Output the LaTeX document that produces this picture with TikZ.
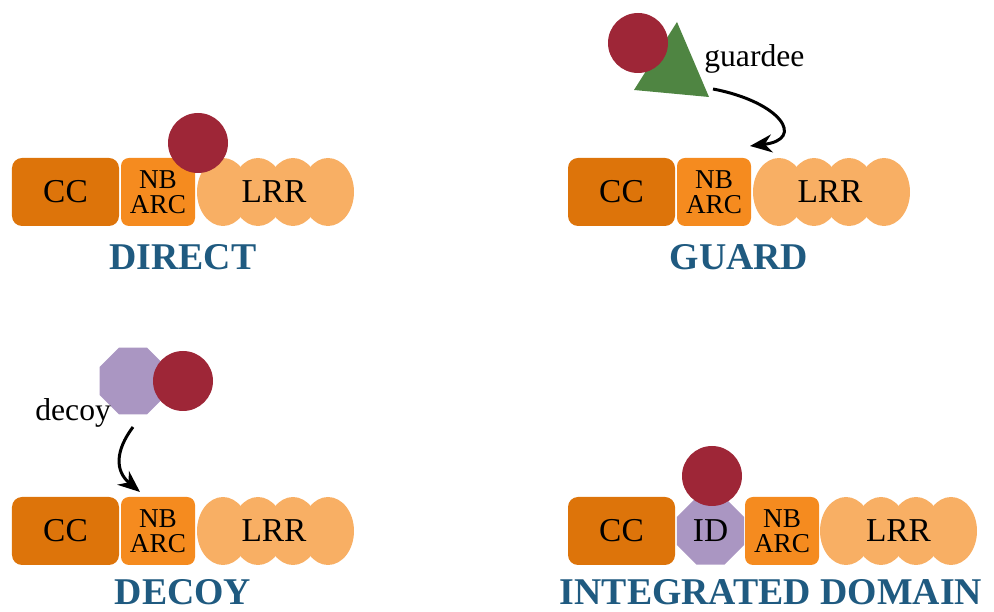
\documentclass[tikz,border=0pt]{standalone}
\usepackage{fontspec}
\setmainfont{Liberation Serif}
\usetikzlibrary{positioning, shapes.geometric, arrows.meta}
\definecolor{CCOrange}{RGB}{221,116,10}
\definecolor{NBOrange}{RGB}{245,139,31}
\definecolor{LRROrange}{RGB}{248,175,100}
\definecolor{EffRed}{RGB}{158,38,55}
\definecolor{TitleBlue}{RGB}{31,90,128}
\definecolor{GuardGreen}{RGB}{79,133,66}
\definecolor{DecoyPurple}{RGB}{170,150,194}

\tikzset{
  ccbox/.style={fill=CCOrange, rounded corners=0.2cm, minimum width=2.14cm, minimum height=1.36cm, inner sep=0pt, font=\fontsize{19}{19}\selectfont},
  nbbox/.style={fill=NBOrange, rounded corners=0.16cm, minimum width=1.48cm, minimum height=1.36cm, inner sep=0pt, align=center, font=\fontsize{15.5}{14}\selectfont},
  lrrbead/.style={fill=LRROrange},
  lrrlabel/.style={font=\fontsize{19}{19}\selectfont, inner sep=0pt},
  effector/.style={circle, fill=EffRed, minimum size=1.2cm, inner sep=0pt},
  octa/.style={regular polygon, regular polygon sides=8, fill=DecoyPurple, minimum size=1.45cm, inner sep=0pt, font=\fontsize{19}{19}\selectfont},
  title/.style={font=\fontsize{21.5}{24}\selectfont\bfseries, text=TitleBlue, anchor=base, inner sep=0pt},
  tag/.style={font=\fontsize{18}{18}\selectfont, inner sep=0pt, anchor=base west},
  curvearrow/.style={-{Stealth[length=0.44cm, width=0.36cm]}, line width=0.06cm}
}

\begin{document}
\begin{tikzpicture}
\useasboundingbox (0,0) rectangle (19.88,12.24);

% DIRECT
\node[ccbox] (cc1) at (1.31,8.40) {CC};
\node[nbbox] (nb1) at (3.16,8.40) {NB\\ARC};
\foreach \i in {0,...,3}
  \fill[lrrbead] ({4.46+0.70*\i},8.40) ellipse [x radius=0.52, y radius=0.68];
\node[lrrlabel] (lrr1) at (5.48,8.40) {LRR};
\node[effector] (eff1) at (3.96,9.38) {};
\node[title] (t1) at (3.66,6.84) {DIRECT};

% GUARD
\begin{scope}[xshift=11.12cm]
\node[ccbox] (cc2) at (1.31,8.40) {CC};
\node[nbbox] (nb2) at (3.16,8.40) {NB\\ARC};
\foreach \i in {0,...,3}
  \fill[lrrbead] ({4.46+0.70*\i},8.40) ellipse [x radius=0.52, y radius=0.68];
\node[lrrlabel] (lrr2) at (5.48,8.40) {LRR};
\fill[GuardGreen] (1.56,10.44) -- (2.42,11.80) -- (3.06,10.30) -- cycle;
\node[effector] (eff2) at (1.64,11.38) {};
\node[tag] (gtag) at (2.96,10.90) {guardee};
\coordinate (gs) at (3.14,10.46);
\coordinate (gt) at (3.88,9.32);
\draw[curvearrow] (gs) .. controls (4.5,10.2) and (5.0,9.45) .. (gt);
\node[title] (t2) at (3.66,6.84) {GUARD};
\end{scope}

% DECOY
\begin{scope}[yshift=-6.78cm]
\node[ccbox] (cc3) at (1.31,8.40) {CC};
\node[nbbox] (nb3) at (3.16,8.40) {NB\\ARC};
\foreach \i in {0,...,3}
  \fill[lrrbead] ({4.46+0.70*\i},8.40) ellipse [x radius=0.52, y radius=0.68];
\node[lrrlabel] (lrr3) at (5.48,8.40) {LRR};
\node[octa] (dec3) at (2.66,11.40) {};
\node[effector] (eff3) at (3.66,11.40) {};
\node[tag] (dtag) at (0.70,10.60) {decoy};
\coordinate (ds) at (2.66,10.48);
\coordinate (dt) at (2.80,9.18);
\draw[curvearrow] (ds) .. controls (2.3,10.0) and (2.3,9.6) .. (dt);
\node[title] (t3) at (3.66,6.93) {DECOY};
\end{scope}

% INTEGRATED DOMAIN
\begin{scope}[xshift=11.12cm, yshift=-6.78cm]
\node[ccbox] (cc4) at (1.31,8.40) {CC};
\node[octa, minimum size=1.46cm] (id4) at (3.09,8.40) {ID};
\node[nbbox] (nb4) at (4.52,8.40) {NB\\ARC};
\foreach \i in {0,...,3}
  \fill[lrrbead] ({5.80+0.70*\i},8.40) ellipse [x radius=0.52, y radius=0.68];
\node[lrrlabel] (lrr4) at (6.85,8.40) {LRR};
\node[effector] (eff4) at (3.12,9.50) {};
\node[title] (t4) at (4.30,6.93) {INTEGRATED DOMAIN};
\end{scope}
\end{tikzpicture}
\end{document}
